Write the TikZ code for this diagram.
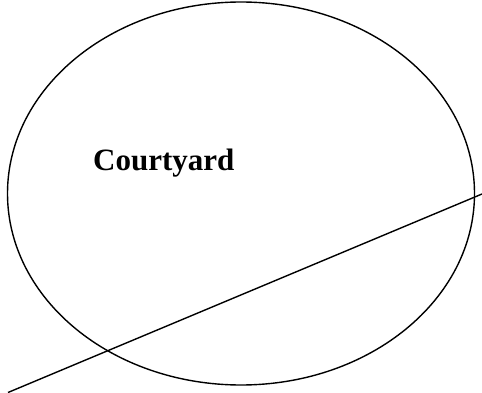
\documentclass[tikz,border=0pt]{standalone}
\usepackage{fontspec}
\setmainfont{Liberation Serif}
\begin{document}
\begin{tikzpicture}[x=1pt,y=-1pt,
  outline/.style={draw=black,line width=1.4pt},
  label/.style={font=\fontsize{31}{36}\selectfont\bfseries,inner sep=0pt,anchor=base west}]
\useasboundingbox (0,0) rectangle (482,393);
\draw[outline] (241,193.5) ellipse [x radius=233.5, y radius=191.5];
\node[label] (court) at (93,170.5) {Courtyard};
\coordinate (a) at (8,392.5);
\coordinate (b) at (482,194);
\draw[outline] (a) -- (b);
\end{tikzpicture}
\end{document}
